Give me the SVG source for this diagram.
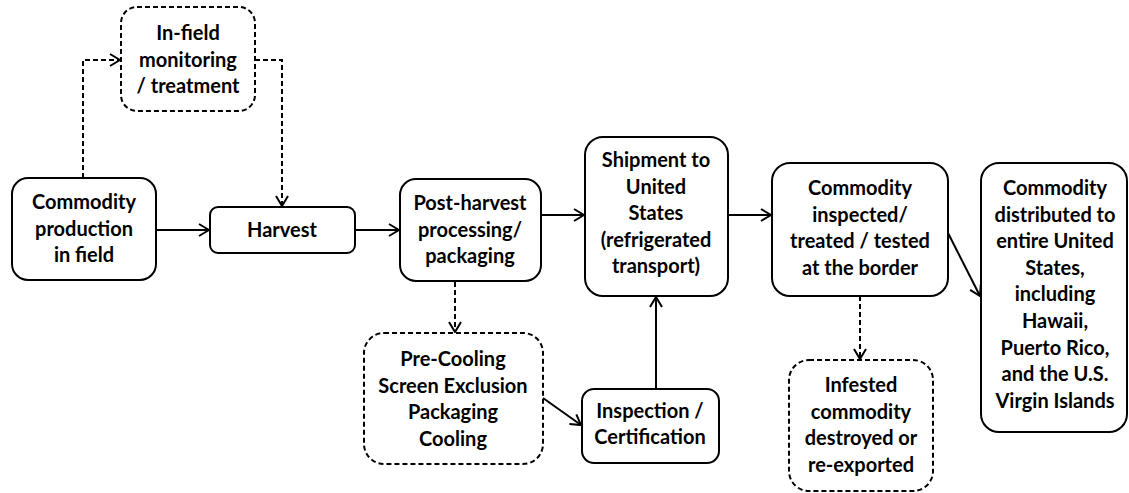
<svg xmlns="http://www.w3.org/2000/svg" width="1129" height="493" viewBox="0 0 1129 493">
  <style>
    .box { fill: #ffffff; stroke: #000000; stroke-width: 2; }
    .dash { stroke-dasharray: 5 3; }
    .lbl { font-family: Lato, "Liberation Sans", sans-serif; font-weight: bold; font-size: 20px; fill: #000000; text-anchor: middle; }
    .edge { fill: none; stroke: #000000; stroke-width: 2; marker-end: url(#arrow); }
  </style>
  <defs>
    <marker id="arrow" viewBox="0 0 12 14" refX="11" refY="7" markerWidth="12" markerHeight="14" markerUnits="userSpaceOnUse" orient="auto">
      <path d="M1,1 L11,7 L1,13" fill="none" stroke="#000000" stroke-width="2"/>
    </marker>
  </defs>
  <rect width="1129" height="493" fill="#ffffff"/>

  <g id="connectors">
    <polyline class="edge dash" points="83,178 83,60 120,60"/>
    <polyline class="edge dash" points="255,60 282,60 282,206"/>
    <line class="edge" x1="156" y1="230" x2="209" y2="230"/>
    <line class="edge" x1="355" y1="230" x2="399" y2="230"/>
    <line class="edge" x1="541" y1="215" x2="584" y2="215"/>
    <line class="edge" x1="728" y1="215" x2="771" y2="215"/>
    <line class="edge" x1="948" y1="233" x2="980" y2="296"/>
    <line class="edge dash" x1="455" y1="282" x2="455" y2="332"/>
    <line class="edge" x1="543" y1="398" x2="581" y2="425"/>
    <line class="edge" x1="656" y1="389" x2="656" y2="297"/>
    <line class="edge dash" x1="860" y1="296" x2="860" y2="359"/>
  </g>

  <g id="commodity-production">
    <rect class="box" x="12" y="178" width="144" height="102" rx="16"/>
    <text class="lbl"><tspan x="84" y="209">Commodity</tspan><tspan x="84" y="235.5">production</tspan><tspan x="84" y="262">in field</tspan></text>
  </g>

  <g id="in-field-monitoring">
    <rect class="box dash" x="121" y="7" width="134" height="104" rx="16"/>
    <text class="lbl"><tspan x="188" y="40">In-field</tspan><tspan x="188" y="66.5">monitoring</tspan><tspan x="188" y="93">/ treatment</tspan></text>
  </g>

  <g id="harvest">
    <rect class="box" x="210" y="207" width="145" height="46" rx="8"/>
    <text class="lbl" x="282" y="237">Harvest</text>
  </g>

  <g id="post-harvest">
    <rect class="box" x="400" y="179" width="141" height="102" rx="16"/>
    <text class="lbl"><tspan x="470" y="210">Post-harvest</tspan><tspan x="470" y="236.5">processing/</tspan><tspan x="470" y="263">packaging</tspan></text>
  </g>

  <g id="shipment">
    <rect class="box" x="585" y="137" width="143" height="159" rx="18"/>
    <text class="lbl"><tspan x="656" y="167">Shipment to</tspan><tspan x="656" y="193.5">United</tspan><tspan x="656" y="220">States</tspan><tspan x="656" y="246.5">(refrigerated</tspan><tspan x="656" y="273">transport)</tspan></text>
  </g>

  <g id="border-inspection">
    <rect class="box" x="772" y="163" width="176" height="133" rx="18"/>
    <text class="lbl"><tspan x="860" y="195">Commodity</tspan><tspan x="860" y="221.5">inspected/</tspan><tspan x="860" y="248">treated / tested</tspan><tspan x="860" y="274.5">at the border</tspan></text>
  </g>

  <g id="distribution">
    <rect class="box" x="981" y="163" width="146" height="269" rx="18"/>
    <text class="lbl"><tspan x="1055" y="195">Commodity</tspan><tspan x="1055" y="221.6">distributed to</tspan><tspan x="1055" y="248.2">entire United</tspan><tspan x="1055" y="274.8">States,</tspan><tspan x="1055" y="301.4">including</tspan><tspan x="1055" y="328">Hawaii,</tspan><tspan x="1055" y="354.6">Puerto Rico,</tspan><tspan x="1055" y="381.2">and the U.S.</tspan><tspan x="1055" y="407.8">Virgin Islands</tspan></text>
  </g>

  <g id="pre-cooling">
    <rect class="box dash" x="364" y="333" width="179" height="131" rx="20"/>
    <text class="lbl"><tspan x="453" y="366">Pre-Cooling</tspan><tspan x="453" y="392.5">Screen Exclusion</tspan><tspan x="453" y="419">Packaging</tspan><tspan x="453" y="445.5">Cooling</tspan></text>
  </g>

  <g id="inspection-certification">
    <rect class="box" x="582" y="389" width="137" height="74" rx="12"/>
    <text class="lbl"><tspan x="650" y="418">Inspection /</tspan><tspan x="650" y="444">Certification</tspan></text>
  </g>

  <g id="infested">
    <rect class="box dash" x="789" y="360" width="144" height="131" rx="20"/>
    <text class="lbl"><tspan x="861" y="392">Infested</tspan><tspan x="861" y="418.5">commodity</tspan><tspan x="861" y="445">destroyed or</tspan><tspan x="861" y="471.5">re-exported</tspan></text>
  </g>
</svg>
